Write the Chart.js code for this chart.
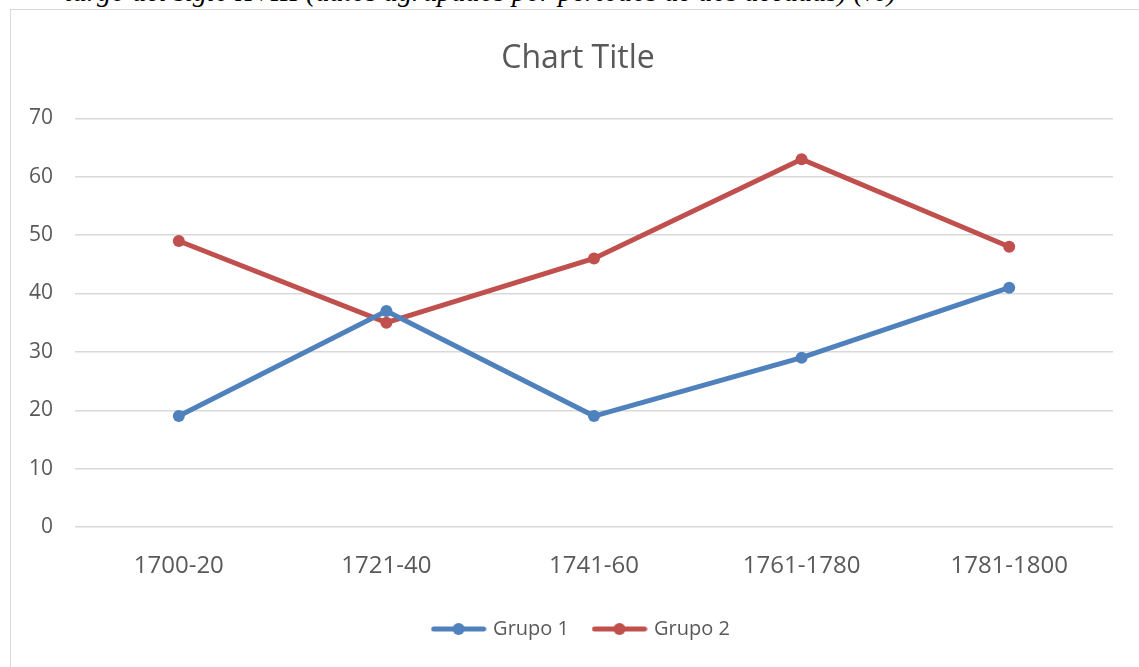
<!DOCTYPE html>
<html>
<head>
<meta charset="utf-8">
<script src="https://cdn.jsdelivr.net/npm/chart.js@4.4.1/dist/chart.umd.min.js"></script>
<style>
  html, body { margin: 0; padding: 0; background: #fff; overflow: hidden; width: 1139px; height: 667px; }
  #cap { position: absolute; left: 65px; top: -24.5px; font-family: "Liberation Serif", serif; font-style: italic; font-size: 28.3px; color: #000; white-space: nowrap; }
  #box { position: absolute; left: 10px; top: 9px; width: 1200px; height: 700px; border: 1.5px solid #d9d9d9; }
  #c { position: absolute; left: 0; top: 0; }
</style>
</head>
<body>
<div id="cap">largo del siglo XVIII (datos agrupados por períodos de dos décadas) (%)</div>
<div id="box"></div>
<canvas id="c" width="1139" height="667"></canvas>
<script>
const categories = ["1700-20", "1721-40", "1741-60", "1761-1780", "1781-1800"];
const grupo1 = [19, 37, 19, 29, 41];
const grupo2 = [49, 35, 46, 63, 48];
const yTicks = [0, 10, 20, 30, 40, 50, 60, 70];

const BLUE = "#4f81bd";
const RED = "#c0504d";
const TXT = "#595959";
const FONT = "'Open Sans', 'Liberation Sans', sans-serif";

function legendIcon(color) {
  const cv = document.createElement("canvas");
  cv.width = 56; cv.height = 14;
  const g = cv.getContext("2d");
  g.strokeStyle = color; g.lineWidth = 5; g.lineCap = "round";
  g.beginPath(); g.moveTo(3, 7); g.lineTo(53, 7); g.stroke();
  g.fillStyle = color;
  g.beginPath(); g.arc(28, 7, 6, 0, Math.PI * 2); g.fill();
  return cv;
}
const icons = [legendIcon(BLUE), legendIcon(RED)];

// shift title and legend horizontally to match the reference centring
const shiftPlugin = {
  id: "shiftBlocks",
  afterLayout(chart) {
    const L = chart.legend, T = chart.titleBlock;
    if (L) { L.left += 20; L.right += 20; }
    if (T) { T.left += 16; T.right += 16; }
  }
};

new Chart(document.getElementById("c"), {
  type: "line",
  data: {
    labels: categories,
    datasets: [
      { label: "Grupo 1", data: grupo1, borderColor: BLUE, backgroundColor: BLUE, borderWidth: 5, pointRadius: 6, pointBackgroundColor: BLUE, pointBorderWidth: 0, tension: 0 },
      { label: "Grupo 2", data: grupo2, borderColor: RED, backgroundColor: RED, borderWidth: 5, pointRadius: 6, pointBackgroundColor: RED, pointBorderWidth: 0, tension: 0 }
    ]
  },
  plugins: [shiftPlugin],
  options: {
    responsive: false,
    animation: false,
    devicePixelRatio: 1,
    layout: { padding: { left: 11, right: 26, top: 0, bottom: 18 } },
    plugins: {
      title: {
        display: true, text: "Chart Title", color: TXT,
        font: { family: FONT, size: 32, weight: "normal" },
        padding: { top: 40, bottom: 40 }
      },
      legend: {
        position: "bottom",
        labels: {
          color: TXT,
          font: { family: FONT, size: 20 },
          usePointStyle: true,
          pointStyleWidth: 49,
          padding: 26,
          generateLabels(chart) {
            const items = Chart.defaults.plugins.legend.labels.generateLabels(chart);
            items.forEach((it, i) => { it.pointStyle = icons[i]; });
            return items;
          }
        }
      },
      tooltip: { enabled: false }
    },
    scales: {
      x: {
        offset: true,
        grid: { display: false },
        border: { display: false },
        ticks: { color: TXT, font: { family: FONT, size: 24 }, padding: 17, maxRotation: 0 },
        afterFit(s) { s.height = 66; }
      },
      y: {
        min: 0, max: 70,
        afterBuildTicks(s) { s.ticks = yTicks.map(v => ({ value: v })); },
        grid: { color: "#d9d9d9", lineWidth: 1.5, drawTicks: false },
        border: { display: false },
        ticks: { color: TXT, font: { family: FONT, size: 21 }, padding: 22 },
        afterFit(s) { s.width = 64; }
      }
    }
  }
});
</script>
</body>
</html>
